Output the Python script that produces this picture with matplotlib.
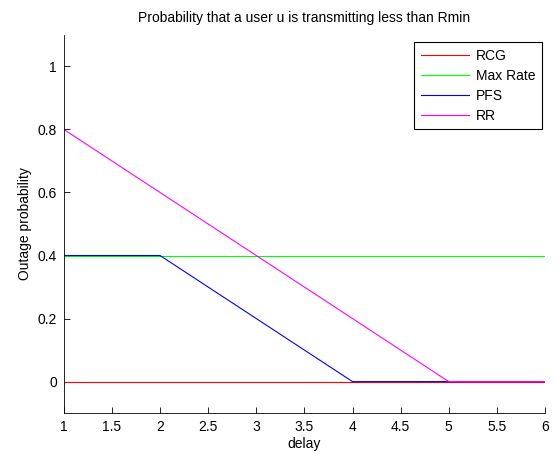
import matplotlib
matplotlib.use("Agg")
import matplotlib.pyplot as plt

plt.rcParams['font.family'] = ['Liberation Sans', 'DejaVu Sans']
plt.rcParams['font.size'] = 10

# delay values and outage probability per scheduler
delay = [1, 2, 3, 4, 5, 6]
rcg = [0, 0, 0, 0, 0, 0]
max_rate = [0.4, 0.4, 0.4, 0.4, 0.4, 0.4]
pfs = [0.4, 0.4, 0.2, 0, 0, 0]
rr = [0.8, 0.6, 0.4, 0.2, 0, 0]

fig = plt.figure(figsize=(5.55, 4.53), dpi=100)
ax = fig.add_axes([0.115, 0.088, 0.867, 0.835])

ax.plot(delay, rcg, color='#ff0000', linewidth=0.8, label='RCG')
ax.plot(delay, max_rate, color='#00ff00', linewidth=0.8, label='Max Rate')
ax.plot(delay, pfs, color='#0000ff', linewidth=0.8, label='PFS')
ax.plot(delay, rr, color='#ff00ff', linewidth=0.8, label='RR')

ax.set_xlim(1, 6)
ax.set_ylim(-0.1, 1.1)
ax.set_xticks([1, 1.5, 2, 2.5, 3, 3.5, 4, 4.5, 5, 5.5, 6])
ax.set_xticklabels(['1', '1.5', '2', '2.5', '3', '3.5', '4', '4.5', '5', '5.5', '6'])
ax.set_yticks([0, 0.2, 0.4, 0.6, 0.8, 1])
ax.set_yticklabels(['0', '0.2', '0.4', '0.6', '0.8', '1'])
ax.tick_params(direction='in', length=4, width=0.6, labelsize=10, pad=5)

ax.spines['top'].set_visible(False)
ax.spines['right'].set_visible(False)
ax.spines['left'].set_linewidth(0.6)
ax.spines['bottom'].set_linewidth(0.6)

ax.set_xlabel('delay', fontsize=10, labelpad=2)
ax.set_ylabel('Outage probability', fontsize=10, labelpad=4)
ax.set_title('Probability that a user u is transmitting less than Rmin', fontsize=10, pad=9)

leg = ax.legend(loc='upper right', bbox_to_anchor=(0.994, 0.981), borderaxespad=0,
                fancybox=False, edgecolor='black', framealpha=1, handlelength=3.5,
                handletextpad=0.45, borderpad=0.5, labelspacing=0.42, fontsize=10)
leg.get_frame().set_linewidth(0.8)

fig.savefig('out.png', dpi=100)
